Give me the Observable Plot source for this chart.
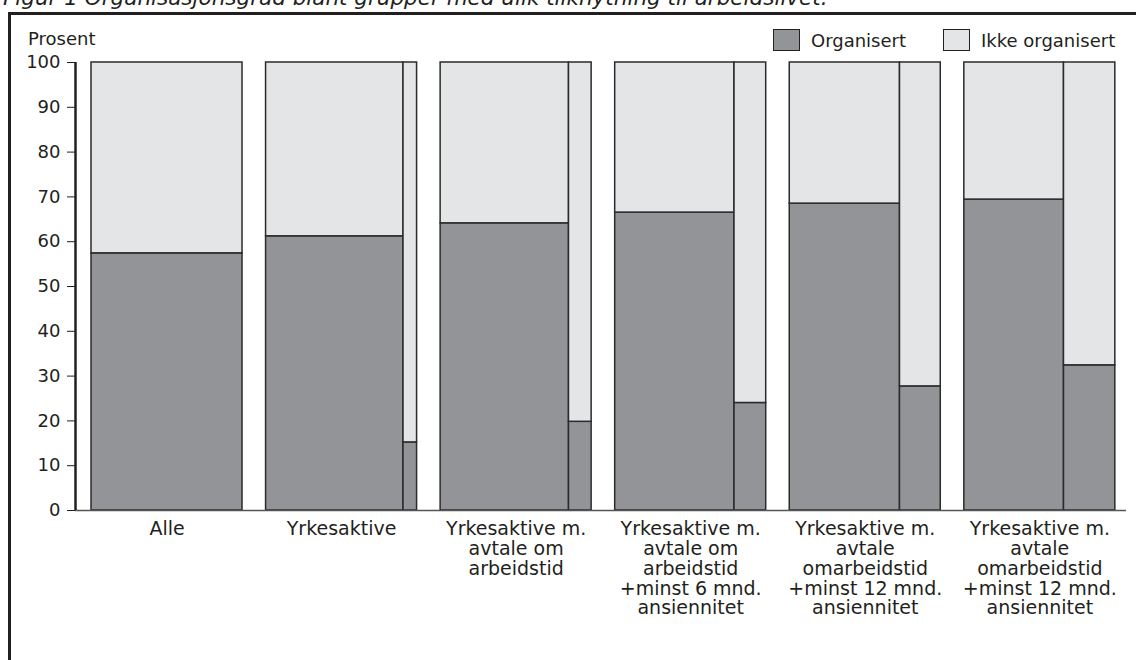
<!DOCTYPE html>
<html>
<head>
<meta charset="utf-8">
<script src="https://cdn.jsdelivr.net/npm/d3@7"></script>
<script src="https://cdn.jsdelivr.net/npm/@observablehq/plot@0.6"></script>
<style>
  html, body { margin: 0; padding: 0; background: #fff; }
  body { width: 1136px; height: 660px; position: relative; overflow: hidden; font-family: "DejaVu Sans", sans-serif; color: #231f20; }
  #title { position: absolute; left: 3px; top: -13px; font-size: 21.5px; line-height: 21px; font-style: italic; white-space: nowrap; }
  #frame { position: absolute; left: 8px; top: 12px; right: -10px; bottom: -10px; border-top: 3px solid #231f20; border-left: 3px solid #231f20; }
  #chart { position: absolute; left: 0; top: 0; }
  #ylabel { position: absolute; left: 28px; top: 30px; font-size: 18px; line-height: 18px; }
  .legend { position: absolute; top: 29px; font-size: 18px; display: flex; align-items: center; }
  .sw { box-sizing: border-box; width: 27px; height: 22px; border: 1.5px solid #231f20; margin-right: 11px; }
</style>
</head>
<body>
<div id="title">Figur 1 Organisasjonsgrad blant grupper med ulik tilknytning til arbeidslivet.</div>
<div id="frame"></div>
<div id="chart"></div>
<div id="ylabel">Prosent</div>
<div id="legend"></div>
<script>
// ---- data ----
const groups = [
  "Alle",
  "Yrkesaktive",
  "Yrkesaktive m.\navtale om\narbeidstid",
  "Yrkesaktive m.\navtale om\narbeidstid\n+minst 6 mnd.\nansiennitet",
  "Yrkesaktive m.\navtale\nomarbeidstid\n+minst 12 mnd.\nansiennitet",
  "Yrkesaktive m.\navtale\nomarbeidstid\n+minst 12 mnd.\nansiennitet"
];
// share (%) of the group width taken by the wide bar
const wideShare = [100, 91, 85, 79, 73, 66];
// organised (%) in wide bar
const wideOrganisert = [57.4, 61.2, 64.1, 66.5, 68.5, 69.4];
// organised (%) in narrow bar (none for "Alle")
const narrowOrganisert = [null, 15.2, 19.8, 24.0, 27.7, 32.4];
const yTicks = [0, 10, 20, 30, 40, 50, 60, 70, 80, 90, 100];
const seriesNames = ["Organisert", "Ikke organisert"];
const colors = ["#939498", "#e4e5e7"];

// ---- build table ----
const step = 115.6; // group spacing in x units (group width = 100)
const rows = [];
groups.forEach((g, i) => {
  const start = i * step;
  const parts = [[start, start + wideShare[i], wideOrganisert[i]]];
  if (narrowOrganisert[i] != null) parts.push([start + wideShare[i], start + 100, narrowOrganisert[i]]);
  for (const [x1, x2, v] of parts) {
    rows.push({x1, x2, y1: 0, y2: v, series: seriesNames[0]});
    rows.push({x1, x2, y1: v, y2: 100, series: seriesNames[1]});
  }
});
const labels = groups.map((g, i) => ({x: i * step + 50, label: g}));

const chart = Plot.plot({
  width: 1136,
  height: 660,
  marginLeft: 75,
  marginRight: 10,
  marginTop: 62,
  marginBottom: 150,
  style: {fontFamily: "'DejaVu Sans', sans-serif", fontSize: "18px", color: "#231f20", background: "transparent"},
  x: {domain: [-10.6, 685.4], axis: null},
  y: {domain: [0, 100], ticks: yTicks, tickSize: 8, tickPadding: 7, label: null, line: false},
  color: {domain: seriesNames, range: colors},
  marks: [
    Plot.rect(rows, {x1: "x1", x2: "x2", y1: "y1", y2: "y2", fill: "series", stroke: "#2b2b2b", strokeWidth: 1.5}),
    Plot.ruleY([0], {stroke: "#555", strokeWidth: 1.5}),
    Plot.ruleX([-10.6], {stroke: "#231f20", strokeWidth: 2.5}),
    Plot.text(labels, {x: "x", y: 0, text: "label", lineAnchor: "top", dy: 10, fontSize: 19, lineHeight: 1.05, fill: "#231f20"})
  ]
});
document.getElementById("chart").appendChild(chart);

// legend
const legend = document.getElementById("legend");
const lx = [773, 943];
seriesNames.forEach((s, i) => {
  const d = document.createElement("div");
  d.className = "legend";
  d.style.left = lx[i] + "px";
  d.innerHTML = `<div class="sw" style="background:${colors[i]}"></div><span>${s}</span>`;
  legend.appendChild(d);
});
</script>
</body>
</html>
